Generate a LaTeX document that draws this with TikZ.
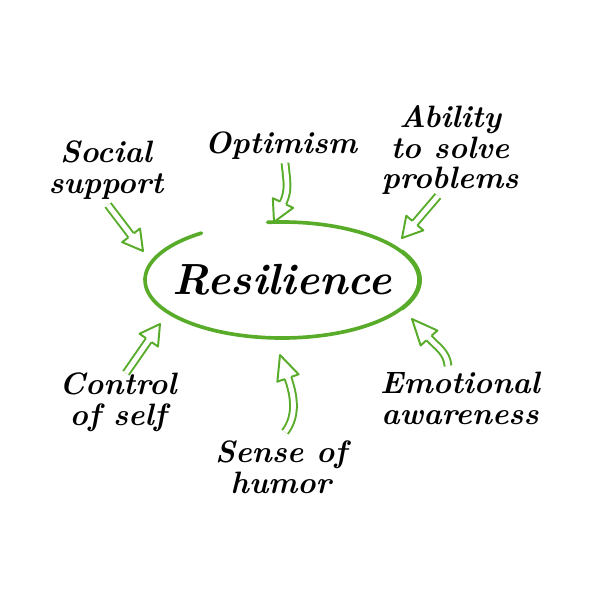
\documentclass[tikz,border=0pt]{standalone}
\usepackage{tikz}
\usetikzlibrary{calc}
\definecolor{leaf}{RGB}{88,172,42}
\tikzset{
  label text/.style={font=\fontsize{22}{22}\selectfont\bfseries\itshape, align=center, inner sep=0pt},
  pointer/.style={draw=leaf, line width=1.4pt, double=white, double distance=3.4pt},
  tiphead/.style={draw=leaf, line width=1.4pt, fill=white, line join=round},
  ring/.style={draw=leaf, line width=2.6pt, line cap=round},
}
\newcommand{\hollowhead}[2]{%
  \draw[tiphead] ($(#1)!2.4pt!90:(#2)$) -- ($(#1)!8pt!90:(#2)$) -- (#2)
    -- ($(#1)!8pt!-90:(#2)$) -- ($(#1)!2.4pt!-90:(#2)$);}

\begin{document}
\begin{tikzpicture}[x=0.025cm, y=-0.025cm]
    % page frame
    \useasboundingbox (0,0) rectangle (600,600);

    % centre word and its ring
    \node[label text, font=\fontsize{31}{31}\selectfont\bfseries\itshape] (res) at (282,280) {Resilience};
    \draw[ring] (res.center) ++(-96:137 and 58) arc[start angle=-96, end angle=234, x radius=137, y radius=58];
    % heavier stroke on the right side
    \draw[ring, line width=1.4pt] (res.center) ++(-30:139 and 59) arc[start angle=-30, end angle=30, x radius=139, y radius=59];

    % the six factors
    \node[label text] (social) at (106,170) {Social\\support};
    \node[label text] (optim) at (281,146) {Optimism};
    \node[label text] (solve) at (450,150) {Ability\\to solve\\problems};
    \node[label text] (control) at (118,402) {Control\\of self};
    \node[label text] (humor) at (281,467) {Sense of\\humor};
    \node[label text] (emotion) at (460,398) {Emotional\\awareness};

    % straight pointers
    \coordinate (socS) at (108,205); \coordinate (socT) at (143,251);
    \coordinate (solS) at (438,196); \coordinate (solT) at (402,238);
    \coordinate (conS) at (126,373); \coordinate (conT) at (160,324);
    \foreach \a in {soc,sol,con} {
        \coordinate (\a B) at ($(\a T)!14pt!(\a S)$);
        \draw[pointer] (\a S) -- (\a B);
        \hollowhead{\a B}{\a T}
    }

    % curved pointers
    \coordinate (optS) at (285,163); \coordinate (optB) at (283,203); \coordinate (optT) at (274,222);
    \draw[pointer] (optS) .. controls (287,182) and ($(optB)!10pt!180:(optT)$) .. (optB);
    \hollowhead{optB}{optT}

    \coordinate (humS) at (285,432); \coordinate (humB) at (288,378); \coordinate (humT) at (280,355);
    \draw[pointer] (humS) .. controls (298,415) and ($(humB)!12pt!180:(humT)$) .. (humB);
    \hollowhead{humB}{humT}

    \coordinate (emoS) at (448,366); \coordinate (emoB) at (429,338); \coordinate (emoT) at (412,319);
    \draw[pointer] (emoS) .. controls (447,352) and ($(emoB)!8pt!180:(emoT)$) .. (emoB);
    \hollowhead{emoB}{emoT}
\end{tikzpicture}
\end{document}
